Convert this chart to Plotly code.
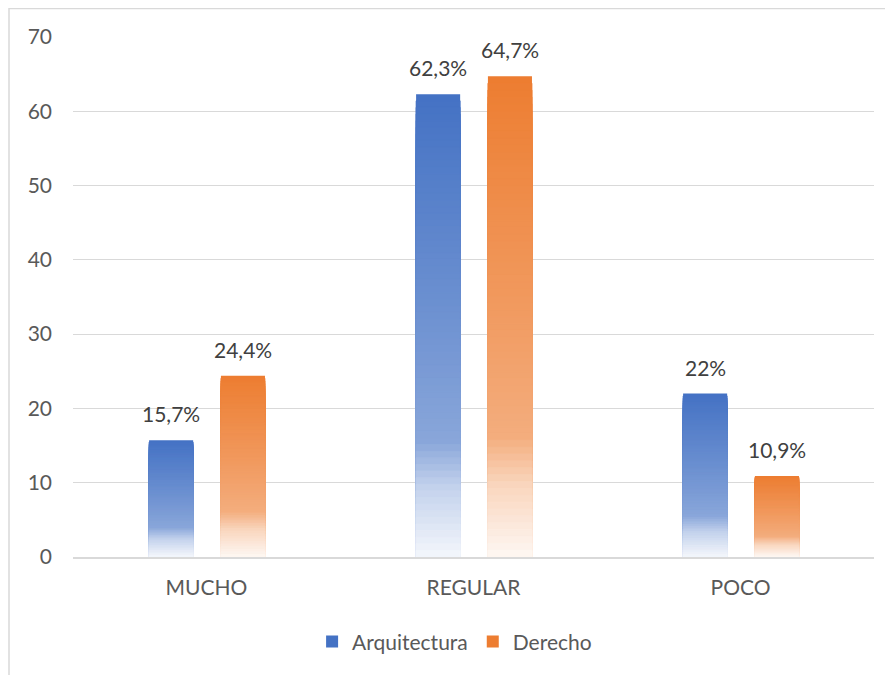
import plotly.graph_objects as go

categories = ["MUCHO", "REGULAR", "POCO"]
series_names = ["Arquitectura", "Derecho"]
arquitectura = [15.7, 62.3, 22.0]
derecho = [24.4, 64.7, 10.9]
labels_arq = ["15,7%", "62,3%", "22%"]
labels_der = ["24,4%", "64,7%", "10,9%"]
y_ticks = [0, 10, 20, 30, 40, 50, 60, 70]

colors = [(0x44, 0x72, 0xC4), (0xED, 0x7D, 0x31)]
offsets = [-0.215, 0.054]
bar_w = 0.165
FONT = "Lato"

# gradient profile: whiteness vs fraction of bar height (0 = bottom, 1 = top)
prof = [(0.0, 0.94), (0.15, 0.68), (0.25, 0.37), (0.55, 0.21), (1.0, 0.0)]


def whiteness(f):
    for (f0, w0), (f1, w1) in zip(prof[:-1], prof[1:]):
        if f0 <= f <= f1:
            return w0 + (w1 - w0) * (f - f0) / (f1 - f0)
    return 0.0


def blend(rgb, w):
    r, g, b = (round(c + (255 - c) * w) for c in rgb)
    return f"rgb({r},{g},{b})"


N = 70
xs = list(range(len(categories)))
fig = go.Figure()

for name, vals, col, off in zip(series_names, [arquitectura, derecho], colors, offsets):
    # full bar (legend entry), then progressively shorter, lighter bars drawn on top
    for j in range(N, 0, -1):
        frac = j / N
        w = whiteness((j - 0.5) / N) if j < N else 0.0
        c = blend(col, w)
        fig.add_trace(go.Bar(
            x=xs, y=[v * frac for v in vals], width=bar_w, offset=off,
            name=name, showlegend=(j == N),
            marker=dict(color=c, line=dict(width=0 if j == N else 0.8, color=c)),
            hoverinfo="skip",
        ))

annotations = []
for vals, labs, off in zip([arquitectura, derecho], [labels_arq, labels_der], offsets):
    for x, v, t in zip(xs, vals, labs):
        annotations.append(dict(
            x=x + off + bar_w / 2, y=v, text=t, showarrow=False,
            xanchor="center", yanchor="bottom", yshift=12,
            font=dict(family=FONT, size=21, color="#404040"),
        ))

fig.update_layout(
    width=885, height=667,
    margin=dict(l=65, r=19, t=29, b=118),
    paper_bgcolor="white", plot_bgcolor="white",
    barmode="overlay",
    font=dict(family=FONT, size=21, color="#595959"),
    xaxis=dict(
        range=[-0.5, 2.5], tickvals=xs, ticktext=categories,
        showgrid=False, zeroline=False,
        showline=True, linecolor="#d9d9d9", linewidth=1.5,
        ticks="", ticklabelstandoff=11,
        tickfont=dict(family=FONT, size=21, color="#595959"),
        fixedrange=True,
    ),
    yaxis=dict(
        range=[0, 70], tickvals=y_ticks,
        showgrid=True, gridcolor="#d9d9d9", gridwidth=1,
        zeroline=False, showline=False, ticks="",
        ticklabelstandoff=20,
        tickfont=dict(family=FONT, size=21, color="#595959"),
        fixedrange=True,
    ),
    legend=dict(
        orientation="h", x=0.4764, xanchor="center", y=-0.163, yanchor="middle",
        font=dict(family=FONT, size=21, color="#595959"),
        bgcolor="rgba(0,0,0,0)", traceorder="normal",
    ),
    annotations=annotations,
    shapes=[dict(
        type="rect", xref="paper", yref="paper",
        x0=(9 - 73) / 801, x1=1.2, y0=(557 - 8.5) / 520, y1=-0.3,
        line=dict(color="#d9d9d9", width=1.5), fillcolor="rgba(0,0,0,0)",
        layer="below",
    )],
)

fig.write_html("out.html")
